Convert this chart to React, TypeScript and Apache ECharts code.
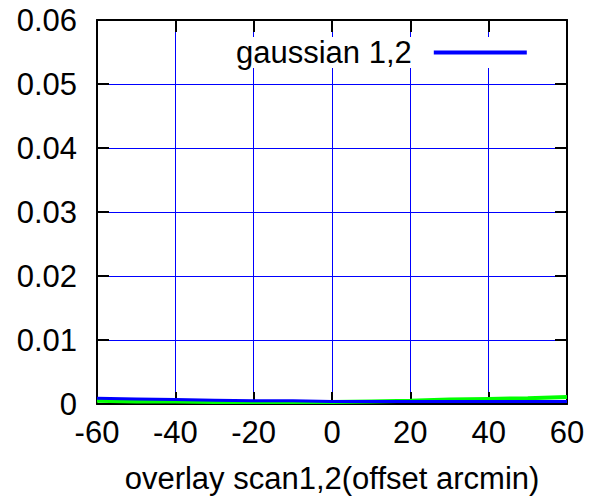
import React, { useEffect, useRef } from "react";
import * as echarts from "echarts";

const xTicks = [-60, -40, -20, 0, 20, 40, 60];
const yTicks = [0, 0.01, 0.02, 0.03, 0.04, 0.05, 0.06];
const offsets = [-60, -50, -40, -30, -20, -10, 0, 10, 20, 30, 40, 50, 60];
const gaussianBlue = [0.0009, 0.0008, 0.0007, 0.0006, 0.0005, 0.0005, 0.0004, 0.0004, 0.0004, 0.0004, 0.0004, 0.0004, 0.0004];
const gaussianGreen = [0.0005, 0.0004, 0.0004, 0.0003, 0.0003, 0.0003, 0.0003, 0.0004, 0.0005, 0.0007, 0.0008, 0.0009, 0.0011];
const legendLabel = "gaussian 1,2";
const xAxisName = "overlay scan1,2(offset arcmin)";

const FONT = "Liberation Sans";

export default function App() {
  const ref = useRef<HTMLDivElement>(null);
  useEffect(() => {
    if (!ref.current) return;
    const chart = echarts.init(ref.current, null, { renderer: "svg" });
    const xMin = xTicks[0];
    const xMax = xTicks[xTicks.length - 1];
    const yMin = yTicks[0];
    const yMax = yTicks[yTicks.length - 1];
    const frame = { show: true, onZero: false, lineStyle: { color: "#000", width: 2 } };
    const tick = { show: true, inside: true, length: 12, lineStyle: { color: "#000", width: 2 } };
    chart.setOption({
      animation: false,
      backgroundColor: "#fff",
      grid: { left: 97, right: 38, top: 20, bottom: 98, containLabel: false },
      legend: {
        show: true,
        data: [legendLabel],
        left: 229,
        top: 37,
        align: "right",
        backgroundColor: "#fff",
        padding: [0, 8, 0, 7],
        icon: "rect",
        itemWidth: 93,
        itemHeight: 4,
        textStyle: { fontFamily: FONT, fontSize: 31, color: "#000", padding: [0, 17, 0, 0] },
        z: 10,
      },
      xAxis: [
        {
          type: "value",
          min: xMin,
          max: xMax,
          interval: 20,
          name: xAxisName,
          nameLocation: "middle",
          nameGap: 59,
          nameTextStyle: { fontFamily: FONT, fontSize: 31, color: "#000" },
          axisLine: frame,
          axisTick: tick,
          axisLabel: { fontFamily: FONT, fontSize: 31, color: "#000", margin: 13 },
          splitLine: { show: true, lineStyle: { color: "#0000ff", width: 1 } },
        },
        {
          type: "value",
          position: "top",
          min: xMin,
          max: xMax,
          interval: 20,
          axisLine: frame,
          axisTick: tick,
          axisLabel: { show: false },
          splitLine: { show: false },
        },
      ],
      yAxis: [
        {
          type: "value",
          min: yMin,
          max: yMax,
          interval: 0.01,
          axisLine: frame,
          axisTick: tick,
          axisLabel: {
            fontFamily: FONT,
            fontSize: 31,
            color: "#000",
            margin: 20,
            formatter: (v: number) => (v === 0 ? "0" : v.toFixed(2)),
          },
          splitLine: { show: true, lineStyle: { color: "#0000ff", width: 1 } },
        },
        {
          type: "value",
          position: "right",
          min: yMin,
          max: yMax,
          interval: 0.01,
          axisLine: frame,
          axisTick: tick,
          axisLabel: { show: false },
          splitLine: { show: false },
        },
      ],
      series: [
        {
          name: "green",
          type: "line",
          data: offsets.map((x, i) => [x, gaussianGreen[i]]),
          showSymbol: false,
          lineStyle: { color: "#00ff00", width: 4 },
          itemStyle: { color: "#00ff00" },
          z: 3,
        },
        {
          name: legendLabel,
          type: "line",
          data: offsets.map((x, i) => [x, gaussianBlue[i]]),
          showSymbol: false,
          lineStyle: { color: "#0000ff", width: 3 },
          itemStyle: { color: "#0000ff" },
          z: 4,
        },
      ],
    });
    return () => chart.dispose();
  }, []);
  return (
    <div
      ref={ref}
      style={{ position: "fixed", left: 0, top: 0, width: 605, height: 502 }}
    />
  );
}
